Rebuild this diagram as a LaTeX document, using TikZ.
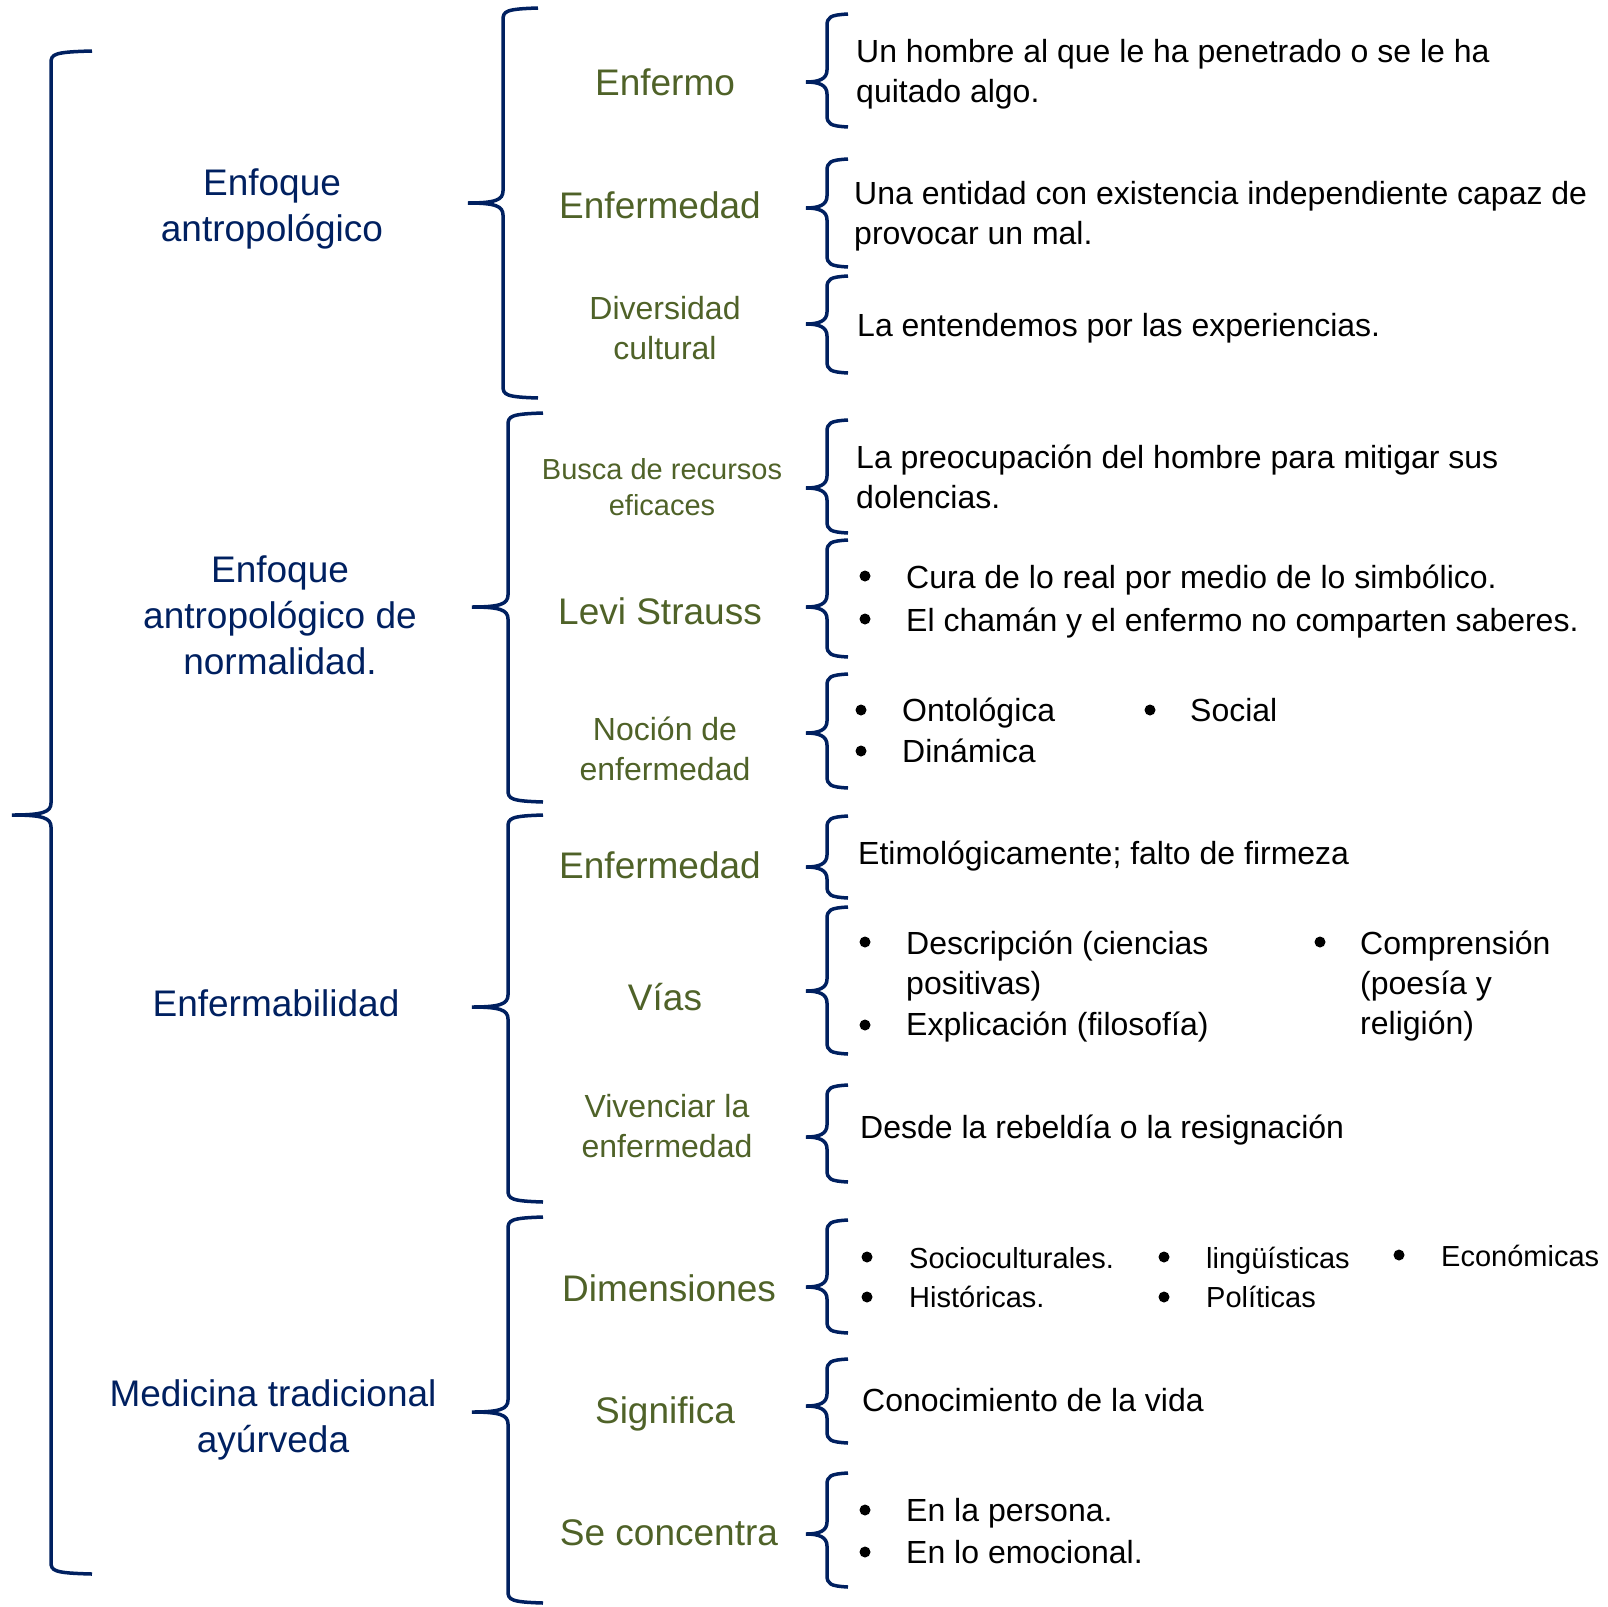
\documentclass[tikz,border=0pt]{standalone}
\usepackage{fontspec}
\setmainfont{Liberation Sans}
\usepackage{xcolor}

\definecolor{azul}{HTML}{002060}
\definecolor{verde}{HTML}{4F6228}

\tikzset{
  llave/.style={draw=azul, line width=3.5pt},
  tema/.style={text=azul, align=center, inner sep=0pt, font=\fontsize{37pt}{46pt}\selectfont},
  sub/.style={text=verde, align=center, inner sep=0pt, font=\fontsize{37pt}{46pt}\selectfont},
  subm/.style={text=verde, align=center, inner sep=0pt, font=\fontsize{32pt}{40pt}\selectfont},
  subp/.style={text=verde, align=center, inner sep=0pt, font=\fontsize{29pt}{36pt}\selectfont},
  desc/.style={anchor=west, align=left, inner sep=0pt, font=\fontsize{32pt}{40pt}\selectfont},
  descp/.style={anchor=west, align=left, inner sep=0pt, font=\fontsize{29pt}{39pt}\selectfont},
  punto/.style={circle, fill=black, inner sep=0pt, minimum size=11pt}
}

% #1 x de la vertical, #2 arriba, #3 punta, #4 abajo, #5 x de los brazos, #6 x de la punta
\newcommand{\llave}[6]{%
  \draw[llave] (#5,#2) .. controls (#1+3,#2+1) and (#1,#2+3) .. (#1,#2+12)
    -- (#1,#3-12) .. controls (#1,#3-3) and (#1-8,#3) .. (#6,#3)
    .. controls (#1-8,#3) and (#1,#3+3) .. (#1,#3+12)
    -- (#1,#4-12) .. controls (#1,#4-3) and (#1+3,#4-1) .. (#5,#4);
}

\begin{document}
\begin{tikzpicture}[x=1pt,y=-1pt]
\useasboundingbox (0,0) rectangle (1608,1606);

\llave{51}{51}{815}{1574}{92}{12}

\llave{503}{8}{203}{398}{538}{468}
\llave{508}{413}{607}{802}{543}{472}
\llave{508}{815}{1007}{1202}{543}{472}
\llave{508}{1217}{1412}{1603}{543}{472}

\foreach \a/\p/\b in {14/82/127, 159/208/267, 276/324/373, 420/488/533, 540/607/657, 674/733/788,
  816/867/898, 907/991/1054, 1085/1137/1182, 1220/1287/1333, 1359/1406/1443, 1473/1534/1587}
  {\llave{827}{\a}{\p}{\b}{848}{806}}

\node[tema] (antro) at (272,209) {Enfoque\\antropológico};
\node[tema] (norma) at (280,615) {Enfoque\\antropológico de\\normalidad.};
\node[tema] (enfab) at (276,1003) {Enfermabilidad};
\node[tema] (ayur) at (273,1420) {Medicina tradicional\\ayúrveda};

\node[sub] (enfermo) at (665,82) {Enfermo};
\node[sub] (enfermedad) at (660,205) {Enfermedad};
\node[subm] (diversidad) at (665,328) {Diversidad\\cultural};
\node[subp] (busca) at (662,487) {Busca de recursos\\eficaces};
\node[sub] (levi) at (660,611) {Levi Strauss};
\node[subm] (nocion) at (665,749) {Noción de\\enfermedad};
\node[sub] (enfermedad2) at (660,865) {Enfermedad};
\node[sub] (vias) at (665,997) {Vías};
\node[subm] (vivenciar) at (667,1126) {Vivenciar la\\enfermedad};
\node[sub] (dimensiones) at (669,1288) {Dimensiones};
\node[sub] (significa) at (665,1414) {Significa};
\node[sub] (concentra) at (669,1533) {Se concentra};

\node[desc] (hombre) at (856,74) {Un hombre al que le ha penetrado o se le ha\\quitado algo.};
\node[desc] (entidad) at (854,216) {Una entidad con existencia independiente capaz de\\provocar un mal.};
\node[desc] (experiencias) at (857,328) {La entendemos por las experiencias.};
\node[desc] (preocupacion) at (856,477) {La preocupación del hombre para mitigar sus\\dolencias.};
\node[desc] (cura) at (906,580) {Cura de lo real por medio de lo simbólico.};
\node[desc] (chaman) at (906,623) {El chamán y el enfermo no comparten saberes.};
\node[desc] (ontologica) at (902,713) {Ontológica};
\node[desc] (dinamica) at (902,751) {Dinámica};
\node[desc] (social) at (1190,710) {Social};
\node[desc] (etimo) at (858,856) {Etimológicamente; falto de firmeza};
\node[desc] (descripcion) at (906,966) {Descripción (ciencias\\positivas)};
\node[desc] (explicacion) at (906,1027) {Explicación (filosofía)};
\node[desc] (comprension) at (1360,986) {Comprensión\\(poesía y\\religión)};
\node[desc] (rebeldia) at (860,1130) {Desde la rebeldía o la resignación};
\node[descp] (socio) at (909,1258) {Socioculturales.};
\node[descp] (historicas) at (909,1297) {Históricas.};
\node[descp] (linguisticas) at (1206,1261) {lingüísticas};
\node[descp] (politicas) at (1206,1297) {Políticas};
\node[descp] (economicas) at (1441,1256) {Económicas};
\node[desc] (conocimiento) at (862,1400) {Conocimiento de la vida};
\node[desc] (persona) at (906,1513) {En la persona.};
\node[desc] (emocional) at (906,1552) {En lo emocional.};

\foreach \x/\y [count=\i] in {865/576, 865/619, 861/710, 861/751, 1150/710, 865/942, 865/1025, 1320/942,
  867/1257, 867/1297, 1164/1257, 1164/1297, 1399/1255, 865/1510, 865/1552}
  \node[punto] (p\i) at (\x,\y) {};

\end{tikzpicture}
\end{document}
